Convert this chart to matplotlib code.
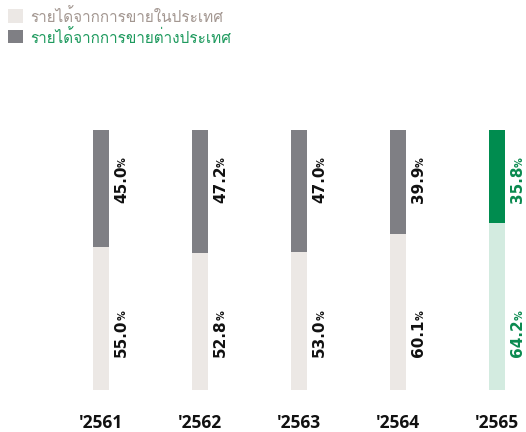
import matplotlib
matplotlib.use("Agg")
import matplotlib.pyplot as plt
from matplotlib.patches import Rectangle

years = ["'2561", "'2562", "'2563", "'2564", "'2565"]
domestic = [55.0, 52.8, 53.0, 60.1, 64.2]
foreign = [45.0, 47.2, 47.0, 39.9, 35.8]
legend_labels = ["รายได้จากการขายในประเทศ", "รายได้จากการขายต่างประเทศ"]

W, H = 526, 432
fig = plt.figure(figsize=(W / 100, H / 100), dpi=100)
ax = fig.add_axes([0, (H - 390) / H, 1, 260 / H])
ax.set_xlim(-101 / 99.1, (W - 101) / 99.1)
ax.set_ylim(0, 100)
ax.axis("off")

light = ["#ece8e5"] * 4 + ["#d3ebe0"]
dark = ["#7f7f84"] * 4 + ["#008c4f"]
lab = ["#111111"] * 4 + ["#0a8a4f"]
bw = 16 / 99.1
x = list(range(len(years)))
ax.bar(x, domestic, width=bw, color=light, linewidth=0)
ax.bar(x, foreign, bottom=domestic, width=bw, color=dark, linewidth=0)

fig.canvas.draw()
r = fig.canvas.get_renderer()
inv = ax.transData.inverted()
off = 25 / 99.1
for i in x:
    # light label (bottom)
    t = ax.text(i + off, 12.7, f"{domestic[i]:.1f}", rotation=90, rotation_mode="anchor",
                ha="left", va="baseline", fontsize=11, fontweight="bold", color=lab[i],
                family="DejaVu Sans")
    bb = t.get_window_extent(r)
    ytop = inv.transform((0, bb.y1 - 1))[1]
    ax.text(i + off, ytop, "%", rotation=90, rotation_mode="anchor", ha="left", va="baseline",
            fontsize=7, fontweight="bold", color=lab[i], family="DejaVu Sans")
    # dark label (top)
    p = ax.text(i + off, 89.6, "%", rotation=90, rotation_mode="anchor", ha="right", va="baseline",
                fontsize=7, fontweight="bold", color=lab[i], family="DejaVu Sans")
    bb = p.get_window_extent(r)
    ybot = inv.transform((0, bb.y0 + 1))[1]
    ax.text(i + off, ybot, f"{foreign[i]:.1f}", rotation=90, rotation_mode="anchor",
            ha="right", va="baseline", fontsize=11, fontweight="bold", color=lab[i],
            family="DejaVu Sans")
    ax.text(i, -14.6, years[i], ha="center", va="baseline", fontsize=12.5, fontweight="bold",
            color="#111111", family="Open Sans", clip_on=False)

sq = ["#ece8e5", "#7f7f84"]
tc = ["#a39791", "#1e9a5e"]
for k, (y0, y1) in enumerate([(9, 23), (30, 43)]):
    fig.patches.append(Rectangle((8, H - y1), 15, y1 - y0, transform=None, color=sq[k], linewidth=0))
    fig.text(30 / W, 1 - (y0 + y1 + 2) / 2 / H, legend_labels[k], ha="left", va="center",
             fontsize=11, color=tc[k], family=["Loma", "DejaVu Sans"])

fig.savefig("out.png", dpi=100)
